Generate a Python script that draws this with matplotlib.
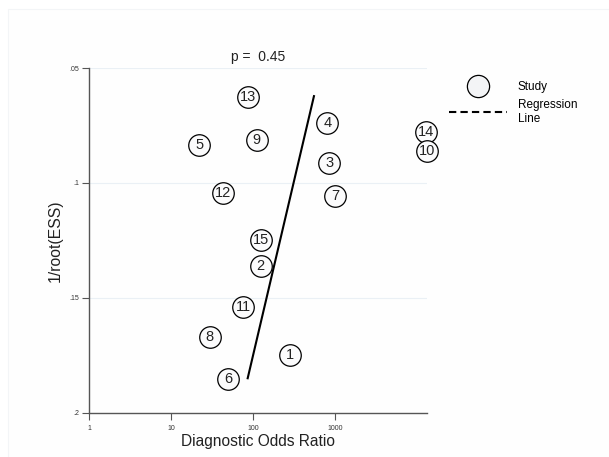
"""
Deeks' funnel plot: inverse root of effective sample size against
diagnostic odds ratio, with the fitted regression line.
"""

import numpy as np
import matplotlib.pyplot as plt
from matplotlib.lines import Line2D
from matplotlib.patches import Rectangle

plt.rcParams["font.family"] = ["Liberation Sans", "DejaVu Sans"]

study_ids = [13, 4, 5, 9, 3, 12, 7, 14, 10, 15, 2, 11, 8, 1, 6]
dor = [87, 798, 21.8, 110, 845, 43, 991, 12650, 13000, 126, 123, 75.5, 29.6, 280, 49.6]
inv_root_ess = [0.0625, 0.0738, 0.0833, 0.0811, 0.0913, 0.1042, 0.1058, 0.0778,
                0.0860, 0.1250, 0.1362, 0.1541, 0.1671, 0.1747, 0.1853]

# regression line end points (DOR, 1/root(ESS))
fit_dor = [85.5, 550]
fit_y = [0.185, 0.0622]
p_value = 0.45

x_ticks = [1, 10, 100, 1000]
x_ticklabels = ["1", "10", "100", "1000"]
y_ticks = [0.05, 0.1, 0.15, 0.2]
y_ticklabels = [".05", ".1", ".15", ".2"]

fig = plt.figure(figsize=(6.09, 4.57), dpi=100)
fig.patches.append(Rectangle((0.013, -0.01), 1.0, 0.99, transform=fig.transFigure,
                             facecolor="#fefefe", edgecolor="#f3f5f7", lw=0.8, zorder=-1))
ax = fig.add_axes([0.1466, 0.0969, 0.554, 0.7541])
ax.patch.set_alpha(0)

ax.set_xscale("log")
ax.set_xlim(1, 10 ** 4.115)
ax.set_ylim(0.2, 0.05)

for yv in y_ticks[:-1]:
    ax.axhline(yv, color="#eaf0f5", lw=0.8, zorder=0)

ax.plot(fit_dor, fit_y, color="black", lw=1.5, zorder=2)

for sid, xv, yv in zip(study_ids, dor, inv_root_ess):
    ax.plot(xv, yv, "o", ms=15.5, mfc="#fbfbfc", mec="black", mew=0.9, zorder=3,
            clip_on=False)
    ax.text(xv, yv, str(sid), ha="center", va="center", fontsize=10.5,
            zorder=4, color="#222222")

ax.set_xticks(x_ticks)
ax.set_xticklabels(x_ticklabels)
ax.xaxis.set_minor_locator(plt.NullLocator())
ax.set_yticks(y_ticks)
ax.set_yticklabels(y_ticklabels)
ax.tick_params(axis="both", labelsize=5, length=5, width=0.8, color="#555555",
               labelcolor="#333333", pad=2)
ax.tick_params(axis="x", pad=4)

for side in ["top", "right"]:
    ax.spines[side].set_visible(False)
for side in ["left", "bottom"]:
    ax.spines[side].set_color("#555555")
    ax.spines[side].set_linewidth(1.0)

ax.set_title(f"p =  {p_value:.2f}", fontsize=10, pad=5, color="#222222")
ax.set_xlabel("Diagnostic Odds Ratio", fontsize=11.2, labelpad=1, color="#222222")
ax.set_ylabel("1/root(ESS)", fontsize=11.3, labelpad=5, color="#222222")

# legend
handles = [
    Line2D([], [], marker="o", ls="none", ms=16, mfc="#f3f4f6", mec="black", mew=0.9),
    Line2D([], [], color="black", ls=(0, (3.5, 2)), lw=1.5),
]
leg = fig.legend(handles, ["Study", "Regression\nLine"], loc="upper left",
                 bbox_to_anchor=(0.72, 0.846), frameon=False, fontsize=8.5,
                 handlelength=4.9, labelspacing=0.5, handletextpad=0.9)

fig.savefig("out.png", dpi=100)
